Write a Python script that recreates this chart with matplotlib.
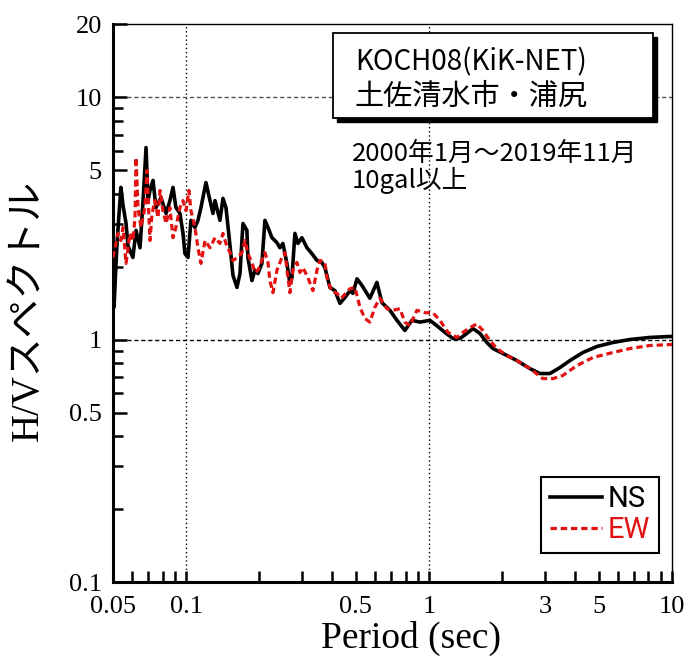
import matplotlib
matplotlib.use('Agg')
import matplotlib.pyplot as plt
from matplotlib.patches import Rectangle
from matplotlib.ticker import FixedLocator, FixedFormatter, NullFormatter

# ---- data ----
ns_period = [0.0500, 0.0505, 0.0512, 0.0519, 0.0529, 0.0539, 0.0550, 0.0566, 0.0576, 0.0587,
             0.0604, 0.0622, 0.0646, 0.0665, 0.0684, 0.0697, 0.0710, 0.0731, 0.0751, 0.0788,
             0.0827, 0.0858, 0.0883, 0.0908, 0.0943, 0.0971, 0.0989, 0.1018, 0.1047, 0.1087,
             0.1119, 0.1151, 0.1207, 0.1254, 0.1290, 0.1315, 0.1378, 0.1418, 0.1459, 0.1516,
             0.1559, 0.1619, 0.1666, 0.1714, 0.1779, 0.1796, 0.1866, 0.1920, 0.1975, 0.2051,
             0.2111, 0.2172, 0.2256, 0.2365, 0.2433, 0.2503, 0.2600, 0.2675, 0.2726, 0.2805,
             0.2885, 0.2997, 0.3143, 0.3295, 0.3455, 0.3620, 0.3727, 0.3908, 0.4099, 0.4297,
             0.4505, 0.4724, 0.4859, 0.5052, 0.5297, 0.5708, 0.6100, 0.6396, 0.6900, 0.7375,
             0.7953, 0.850, 0.917, 1.008, 1.077, 1.162, 1.254, 1.340, 1.432, 1.515,
             1.619, 1.730, 1.832, 2.013, 2.299, 2.600, 2.858, 3.143, 3.455, 3.800,
             4.298, 4.906, 5.710, 6.708, 8.106, 10.0]
ns_hv = [2.08, 1.36, 1.84, 2.44, 3.25, 4.24, 3.57, 3.01, 2.44, 2.33,
         2.18, 2.82, 2.39, 3.74, 6.19, 3.74, 4.12, 4.53, 3.50, 3.85,
         3.31, 3.74, 4.24, 3.50, 3.31, 2.74, 2.26, 2.18, 3.10, 2.90,
         3.10, 3.50, 4.44, 3.74, 3.31, 3.74, 3.10, 3.82, 3.50, 2.44,
         1.84, 1.64, 1.87, 3.01, 2.82, 2.18, 1.75, 1.93, 1.87, 2.06,
         3.10, 2.90, 2.63, 2.51, 2.39, 2.49, 2.06, 1.70, 1.80, 2.74,
         2.49, 2.63, 2.39, 2.26, 2.12, 2.08, 1.98, 1.64, 1.59, 1.41,
         1.49, 1.59, 1.55, 1.78, 1.67, 1.48, 1.72, 1.42, 1.32, 1.20,
         1.09, 1.20, 1.18, 1.20, 1.14, 1.07, 1.01, 1.01, 1.06, 1.11,
         1.06, 0.972, 0.918, 0.876, 0.819, 0.759, 0.724, 0.724, 0.766, 0.819,
         0.884, 0.936, 0.972, 1.00, 1.02, 1.03]

ew_period = [0.0500, 0.0510, 0.0524, 0.0539, 0.0550, 0.0566, 0.0587, 0.0604, 0.0616, 0.0622,
             0.0634, 0.0652, 0.0677, 0.0690, 0.0710, 0.0724, 0.0744, 0.0766, 0.0781, 0.0803,
             0.0827, 0.0858, 0.0883, 0.0908, 0.0943, 0.0971, 0.0999, 0.1027, 0.1047, 0.1087,
             0.1119, 0.1151, 0.1196, 0.1254, 0.1315, 0.1378, 0.1418, 0.1459, 0.1516, 0.1559,
             0.1634, 0.1698, 0.1746, 0.1796, 0.1866, 0.1920, 0.1975, 0.2051, 0.2111, 0.2172,
             0.2213, 0.2277, 0.2365, 0.2480, 0.2551, 0.2625, 0.2675, 0.2751, 0.2858, 0.2941,
             0.3026, 0.3173, 0.3326, 0.3455, 0.3556, 0.3727, 0.3799, 0.3960, 0.4177, 0.4350,
             0.4724, 0.4953, 0.5193, 0.5445, 0.5708, 0.5986, 0.6276, 0.6707, 0.7106, 0.7586,
             0.7953, 0.8341, 0.8912, 0.9614, 1.037, 1.108, 1.196, 1.302, 1.378, 1.473,
             1.573, 1.666, 1.780, 1.902, 2.091, 2.299, 2.600, 2.941, 3.234, 3.555,
             4.060, 4.724, 5.710, 6.708, 8.106, 10.0]
ew_hv = [2.18, 2.39, 2.74, 2.56, 2.90, 2.06, 2.74, 2.56, 3.18, 5.63,
         3.50, 2.90, 3.50, 4.98, 2.56, 3.31, 3.74, 3.18, 4.12, 3.40,
         3.01, 3.50, 2.63, 2.90, 3.50, 3.74, 3.40, 4.12, 3.40, 2.90,
         2.39, 2.06, 2.56, 2.39, 2.63, 2.49, 2.74, 2.49, 2.28, 2.12,
         2.18, 2.28, 2.56, 2.26, 2.08, 1.89, 1.93, 2.12, 2.28, 2.08,
         1.75, 1.56, 1.93, 2.18, 2.28, 1.80, 1.56, 1.93, 2.08, 1.89,
         1.98, 1.80, 1.59, 1.93, 2.12, 2.08, 1.80, 1.59, 1.55, 1.48,
         1.62, 1.64, 1.36, 1.22, 1.18, 1.36, 1.48, 1.34, 1.32, 1.34,
         1.18, 1.14, 1.32, 1.29, 1.29, 1.20, 1.07, 1.02, 1.07, 1.12,
         1.16, 1.09, 0.990, 0.918, 0.859, 0.819, 0.759, 0.690, 0.690, 0.711,
         0.781, 0.843, 0.884, 0.918, 0.945, 0.954]

x_major = [0.05, 0.1, 0.5, 1, 3, 5, 10]
x_major_labels = ['0.05', '0.1', '0.5', '1', '3', '5', '10']
x_minor = [0.06, 0.07, 0.08, 0.09, 0.2, 0.3, 0.4, 0.6, 0.7, 0.8, 0.9, 2, 4, 6, 7, 8, 9]
y_major = [0.1, 0.5, 1, 5, 10, 20]
y_major_labels = ['0.1', '0.5', '1', '5', '10', '20']
y_minor = [0.2, 0.3, 0.4, 0.6, 0.7, 0.8, 0.9, 2, 3, 4, 6, 7, 8, 9]

station_text = 'KOCH08(KiK-NET)'
place_text = '土佐清水市・浦尻'
period_text = '2000年1月～2019年11月'
level_text = '10gal以上'
x_label = 'Period (sec)'
y_label = 'H/Vスペクトル'
series_labels = ['NS', 'EW']

# ---- style ----
plt.rcParams['font.family'] = ['Liberation Serif', 'Noto Sans CJK JP', 'DejaVu Sans']
RED = '#e31212'

fig = plt.figure(figsize=(6.91, 6.66), dpi=100)
ax = fig.add_axes([0.1635, 0.1261, 0.8090, 0.8378])

ax.set_xscale('log')
ax.set_yscale('log')

# reference lines
ax.axvline(0.1, color='black', lw=1.0, ls=(0, (1, 2)), zorder=1)
ax.axvline(1.0, color='black', lw=1.0, ls=(0, (1, 2)), zorder=1)
ax.axhline(1.0, color='black', lw=1.0, ls=(0, (3, 2)), zorder=1)
ax.axhline(10.0, color='#555555', lw=1.0, ls=(0, (3, 2)), zorder=1)

ax.plot(ns_period, ns_hv, color='black', lw=2.6, solid_joinstyle='round',
        label=series_labels[0], zorder=4)
ax.plot(ew_period, ew_hv, color=RED, lw=2.3, ls=(0, (2.0, 1.2)),
        label=series_labels[1], zorder=5)

ax.set_xlim(0.05, 10)
ax.set_ylim(0.1, 20)

ax.xaxis.set_major_locator(FixedLocator(x_major))
ax.xaxis.set_major_formatter(FixedFormatter(x_major_labels))
ax.xaxis.set_minor_locator(FixedLocator(x_minor))
ax.xaxis.set_minor_formatter(NullFormatter())
ax.yaxis.set_major_locator(FixedLocator(y_major))
ax.yaxis.set_major_formatter(FixedFormatter(y_major_labels))
ax.yaxis.set_minor_locator(FixedLocator(y_minor))
ax.yaxis.set_minor_formatter(NullFormatter())

ax.tick_params(which='both', direction='in', top=False, right=False, labelsize=19)
ax.tick_params(axis='x', which='both', length=8, width=1.8, pad=10)
ax.tick_params(axis='y', which='major', length=10, width=1.8, pad=8)
ax.tick_params(axis='y', which='minor', length=7, width=1.8)

for s in ('left', 'bottom'):
    ax.spines[s].set_linewidth(2.2)
for s in ('top', 'right'):
    ax.spines[s].set_linewidth(1.0)

ax.set_xlabel(x_label, fontsize=27)
ax.xaxis.set_label_coords(0.533, -0.070)
ax.set_ylabel(y_label, fontsize=28, family=['Liberation Serif', 'Noto Sans CJK JP'])
ax.yaxis.set_label_coords(-0.118, 0.487)

# title box with shadow
bx0, by0, bw, bh = 0.482, 0.823, 0.463, 0.127
ax.add_patch(Rectangle((bx0 + 0.006, by0 - 0.006), bw, bh, transform=fig.transFigure,
                       facecolor='black', edgecolor='black', lw=1.0, clip_on=False, zorder=8))
ax.add_patch(Rectangle((bx0, by0), bw, bh, transform=fig.transFigure,
                       facecolor='white', edgecolor='black', lw=1.3, clip_on=False, zorder=9))
cjk = ['Noto Sans CJK JP', 'DejaVu Sans']
fig.text(0.5137, 0.8949, station_text, fontsize=20, family=cjk, va='baseline', zorder=10)
fig.text(0.5137, 0.8420, place_text, fontsize=21, family=cjk, va='baseline', zorder=10)
fig.text(0.5094, 0.7177, period_text + '\n' + level_text, fontsize=18.5, family=cjk,
         va='baseline', linespacing=0.98, zorder=10)

leg = ax.legend(loc='lower right', bbox_to_anchor=(0.977, 0.052), borderaxespad=0,
                frameon=True, fancybox=False, edgecolor='black', framealpha=1,
                handlelength=1.8, handletextpad=0.2, borderpad=0.3, labelspacing=0.1,
                prop=dict(family=['Liberation Sans Narrow', 'Roboto', 'DejaVu Sans'], size=21),
                labelcolor='linecolor')
leg.get_frame().set_linewidth(1.5)
leg.set_zorder(10)

fig.savefig('out.png', dpi=100)
